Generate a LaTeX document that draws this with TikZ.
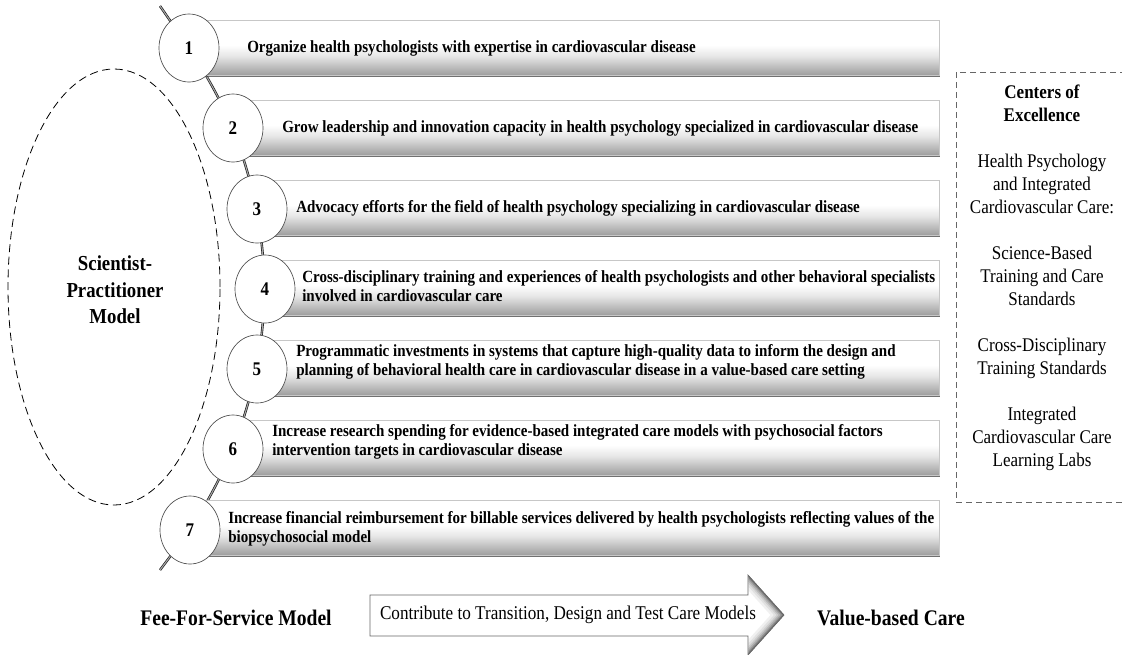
\documentclass[tikz,border=0pt]{standalone}
\usepackage{fontspec}
\setmainfont{Liberation Serif}[FakeStretch=0.88]
\usetikzlibrary{shapes.geometric,shadows,backgrounds}
\pgfdeclareverticalshading{barshade}{100bp}{color(0bp)=(black!40); color(25bp)=(black!38); color(42bp)=(black!10); color(52bp)=(white); color(100bp)=(white)}
\tikzset{
  bar/.style={shade, shading=barshade, draw=black!22, line width=0.4pt,
    drop shadow={shadow xshift=0.8pt, shadow yshift=-1.8pt, fill=black!75, opacity=0.75}},
  numcirc/.style={ellipse, draw=black!70, line width=0.5pt, fill=white, minimum width=45pt, minimum height=51pt, inner sep=0pt, font=\fontsize{14.5}{16}\selectfont\bfseries},
  bartext/.style={anchor=west, align=left, inner sep=0pt, font=\fontsize{12.8}{14.25}\selectfont\bfseries},
  spine/.style={draw=black!90, line width=0.5pt, double=black!35, double distance=0.8pt},
  bigbold/.style={font=\fontsize{16.7}{20}\selectfont\bfseries, inner sep=0pt},
}
\begin{document}
\begin{tikzpicture}[x=0.75pt, y=-0.75pt]
\useasboundingbox (0,0) rectangle (1122,654);
% scientist-practitioner ellipse
\node[ellipse, draw=black, dashed, dash pattern=on 6pt off 3.5pt, line width=0.6pt, minimum width=159pt, minimum height=327pt] (spm) at (114,287) {};
\node[align=center, inner sep=0pt, font=\fontsize{16}{20}\selectfont\bfseries] (spmtext) at (115,290) {Scientist-\\Practitioner\\Model};
% bars
\foreach \i/\cx in {1/189,2/233,3/257,4/265,5/257,6/233,7/190}{
  \path[bar] (\cx,{20+80*(\i-1)}) rectangle (939,{75+80*(\i-1)});
}
% circle nodes
\node[numcirc] (c1) at (189,48) {1};
\node[numcirc] (c2) at (233,128) {2};
\node[numcirc] (c3) at (257,209) {3};
\node[numcirc] (c4) at (265,289) {4};
\node[numcirc] (c5) at (257,369) {5};
\node[numcirc] (c6) at (233,449) {6};
\node[numcirc] (c7) at (190,530) {7};
\coordinate (top) at (160,6);
\coordinate (bot) at (160,570);
% spine (drawn behind circles)
\begin{pgfonlayer}{background}
\path[spine] (top) -- (c1.center);
\path[spine] (c1.center) to[bend left=4] (c2.center);
\path[spine] (c2.center) to[bend left=3] (c3.center);
\path[spine] (c3.center) to[bend left=3] (c4.center);
\path[spine] (c4.center) to[bend left=3] (c5.center);
\path[spine] (c5.center) to[bend left=3] (c6.center);
\path[spine] (c6.center) to[bend left=4] (c7.center);
\path[spine] (c7.center) -- (bot);
\end{pgfonlayer}
% bar texts
\node[bartext] (t1) at (247,48) {Organize health psychologists with expertise in cardiovascular disease};
\node[bartext] (t2) at (282,128) {Grow leadership and innovation capacity in health psychology specialized in cardiovascular disease};
\node[bartext] (t3) at (296,208) {Advocacy efforts for the field of health psychology specializing in cardiovascular disease};
\node[bartext] (t4) at (302,286) {Cross-disciplinary training and experiences of health psychologists and other behavioral specialists\\involved in cardiovascular care};
\node[bartext] (t5) at (296,362) {Programmatic investments in systems that capture high-quality data to inform the design and\\planning of behavioral health care in cardiovascular disease in a value-based care setting};
\node[bartext] (t6) at (272,442) {Increase research spending for evidence-based integrated care models with psychosocial factors\\intervention targets in cardiovascular disease};
\node[bartext] (t7) at (228,529) {Increase financial reimbursement for billable services delivered by health psychologists reflecting values of the\\biopsychosocial model};
% centers of excellence box
\draw[black!60, dashed, dash pattern=on 4.5pt off 3pt, line width=0.5pt] (956,72) rectangle (1126,502);
\node[align=center, inner sep=0pt, font=\fontsize{14.5}{17.25}\selectfont] (coe) at (1042,278) {{\bfseries Centers of}\\{\bfseries Excellence}\\[17.25pt]Health Psychology\\and Integrated\\Cardiovascular Care:\\[17.25pt]Science-Based\\Training and Care\\Standards\\[17.25pt]Cross-Disciplinary\\Training Standards\\[17.25pt]Integrated\\Cardiovascular Care\\Learning Labs};
% bottom arrow
\path[fill=white] (370,595) -- (748,595) -- (748,575) -- (784,615) -- (748,655) -- (748,636) -- (370,636) -- cycle;
\begin{scope}
\clip (370,595) -- (748,595) -- (748,575) -- (784,615) -- (748,655) -- (748,636) -- (370,636) -- cycle;
\clip (748.5,560) rectangle (800,660);
\foreach \w/\c in {20/6,15/12,11/20,8/30,5/42,2.5/55}{
  \draw[line width=\w*0.75pt, black!\c, line join=miter] (740,566) -- (748,575) -- (784,615) -- (748,655) -- (740,664);
}
\end{scope}
\path[draw=black!60, line width=0.5pt] (370,595) -- (748,595) -- (748,575) -- (784,615) -- (748,655) -- (748,636) -- (370,636) -- cycle;
\node[inner sep=0pt, font=\fontsize{14.6}{17}\selectfont] (arrtext) at (568,615) {Contribute to Transition, Design and Test Care Models};
\node[bigbold] (ffs) at (236,618) {Fee-For-Service Model};
\node[bigbold] (vbc) at (891,618) {Value-based Care};
\end{tikzpicture}
\end{document}
